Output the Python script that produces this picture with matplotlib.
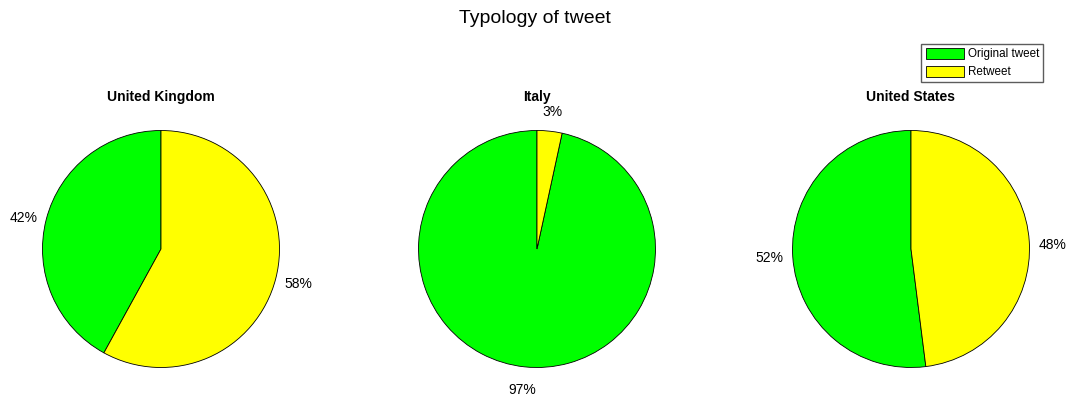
import matplotlib.pyplot as plt
from matplotlib.patches import Patch

plt.rcParams['font.family'] = ['Liberation Sans', 'DejaVu Sans']

countries = ['United Kingdom', 'Italy', 'United States']
categories = ['Original tweet', 'Retweet']
original = [42, 96.6, 52]
retweet = [58, 3.4, 48]
colors = ['#00ff00', '#ffff00']

fig = plt.figure(figsize=(10.70, 3.99), dpi=100)

# pie centers and radius in pixels (figure coords)
cx = [161, 537, 911]
cy = 249
r = 118.5
W, H = 1070, 399

for i, name in enumerate(countries):
    ax = fig.add_axes([(cx[i] - r) / W, (H - cy - r) / H, 2 * r / W, 2 * r / H])
    wedges, texts, autotexts = ax.pie(
        [original[i], retweet[i]], colors=colors, startangle=90,
        counterclock=True, autopct='%1.0f%%', pctdistance=1.2,
        wedgeprops={'edgecolor': 'black', 'linewidth': 0.6},
        textprops={'fontsize': 10})
    # labels in the upper half sit a bit lower in the original
    for t in autotexts:
        x, y = t.get_position()
        if y > 0:
            t.set_position((x, y - 0.04))
    ax.set_xlim(-1, 1)
    ax.set_ylim(-1, 1)
    ax.set_aspect('equal')
    ax.set_title(name, fontsize=10, fontweight='bold', pad=21.5)

fig.suptitle('Typology of tweet', fontsize=14, y=0.975)

handles = [Patch(facecolor=c, edgecolor='black', linewidth=0.6) for c in colors]
fig.legend(handles, categories, loc='upper right', bbox_to_anchor=(1043 / W, 1 - 44 / H),
           fontsize=8.4, frameon=True, fancybox=False, edgecolor='#333333',
           handlelength=3.3, handleheight=1.05, handletextpad=0.3,
           borderpad=0.35, labelspacing=0.45, borderaxespad=0)

fig.savefig('out.png', dpi=100)
